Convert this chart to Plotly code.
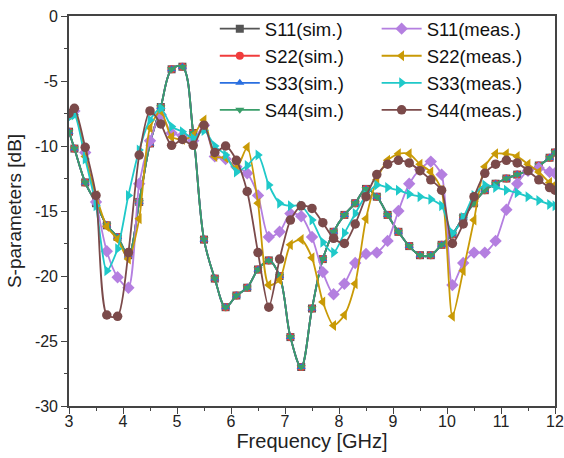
import plotly.graph_objects as go

# Frequency grid (GHz) shared by all curves
freq = [3.0, 3.1, 3.3, 3.5, 3.7, 3.9, 4.1, 4.3, 4.5, 4.7, 4.9, 5.1, 5.3, 5.5, 5.7, 5.9,
        6.1, 6.3, 6.5, 6.7, 6.9, 7.1, 7.3, 7.5, 7.7, 7.9, 8.1, 8.3, 8.5, 8.7, 8.9, 9.1,
        9.3, 9.5, 9.7, 9.9, 10.1, 10.3, 10.5, 10.7, 10.9, 11.1, 11.3, 11.5, 11.7, 11.9, 12.0]

# Simulated (all four ports nearly identical)
s44_sim = [-8.9, -10.2, -12.8, -14.4, -16.1, -17.0, -18.4, -14.3, -9.8, -7.0, -4.1, -3.9,
           -9.0, -17.2, -20.2, -22.4, -21.5, -20.9, -19.5, -18.8, -20.0, -24.7, -27.0, -22.5,
           -18.7, -16.6, -15.3, -14.4, -13.3, -13.9, -15.3, -16.6, -17.7, -18.4, -18.4, -17.6,
           -16.8, -15.5, -14.4, -13.4, -12.9, -12.5, -12.2, -11.9, -11.5, -10.9, -10.5]
s11_sim = list(s44_sim)
s22_sim = list(s44_sim)
s33_sim = list(s44_sim)

# Measured
s11_meas = [-7.6, -7.3, -10.5, -14.3, -18.1, -20.1, -20.9, -12.9, -9.6, -7.6, -9.0, -9.2,
            -9.6, -8.4, -10.8, -11.0, -11.6, -12.1, -13.8, -17.0, -16.6, -15.2, -15.4, -17.0,
            -19.7, -21.4, -20.6, -19.0, -18.3, -18.2, -17.3, -15.0, -12.9, -11.8, -11.2, -12.2,
            -20.7, -19.0, -18.2, -18.2, -17.3, -14.9, -12.9, -11.9, -11.7, -12.0, -12.1]
s22_meas = [-7.6, -7.3, -10.8, -13.8, -16.2, -17.2, -18.7, -15.6, -8.6, -7.3, -9.3, -9.5,
            -9.2, -8.0, -10.8, -10.9, -11.7, -10.1, -14.4, -20.7, -20.3, -17.6, -17.2, -18.6,
            -22.0, -23.8, -23.0, -20.6, -15.6, -12.6, -11.1, -10.6, -10.6, -11.4, -12.0, -13.4,
            -23.1, -19.6, -15.7, -11.6, -10.6, -10.6, -10.8, -11.4, -12.0, -12.8, -13.0]
s33_meas = [-7.8, -7.6, -11.0, -14.6, -19.6, -17.9, -13.8, -10.3, -8.0, -7.1, -8.5, -8.9,
            -9.4, -8.8, -10.0, -10.7, -12.0, -11.5, -10.7, -13.0, -14.4, -14.6, -14.6, -15.7,
            -17.4, -18.2, -16.7, -15.2, -13.8, -13.0, -13.2, -13.4, -13.7, -13.9, -14.1, -14.6,
            -16.7, -15.5, -13.8, -13.0, -13.2, -13.4, -13.6, -13.9, -14.2, -14.5, -14.6]
s44_meas = [-7.5, -7.1, -10.1, -13.8, -23.0, -23.1, -18.2, -10.7, -7.3, -8.3, -9.95, -9.5,
            -9.95, -8.4, -10.5, -10.0, -11.1, -13.5, -18.2, -22.4, -18.7, -15.7, -14.6, -14.8,
            -15.9, -17.1, -17.5, -16.0, -13.9, -12.2, -11.4, -11.1, -11.3, -11.9, -12.6, -13.4,
            -17.5, -16.0, -13.9, -12.1, -11.4, -11.1, -11.3, -11.9, -12.6, -13.2, -13.4]

x_ticks = [3, 4, 5, 6, 7, 8, 9, 10, 11, 12]
y_ticks = [0, -5, -10, -15, -20, -25, -30]

sim_series = [
    ("S11(sim.)", s11_sim, "#555555", "square"),
    ("S22(sim.)", s22_sim, "#F03C3C", "circle"),
    ("S33(sim.)", s33_sim, "#2A6FE0", "triangle-up"),
    ("S44(sim.)", s44_sim, "#3A9E6A", "triangle-down"),
]
meas_series = [
    ("S11(meas.)", s11_meas, "#B47FE0", "diamond"),
    ("S22(meas.)", s22_meas, "#C99A06", "triangle-left"),
    ("S33(meas.)", s33_meas, "#1FC9C9", "triangle-right"),
    ("S44(meas.)", s44_meas, "#7B4A4A", "circle"),
]

FONT = "Liberation Sans, Arial, sans-serif"

fig = go.Figure()
for name, ys, col, sym in sim_series:
    fig.add_trace(go.Scatter(
        x=freq, y=ys, name=name, mode="lines+markers",
        line=dict(color=col, width=1.8, shape="spline", smoothing=1.0),
        marker=dict(symbol=sym, size=8, color=col),
        legend="legend"))
for name, ys, col, sym in meas_series:
    fig.add_trace(go.Scatter(
        x=freq, y=ys, name=name, mode="lines+markers",
        line=dict(color=col, width=1.8, shape="spline", smoothing=0.7),
        marker=dict(symbol=sym, size=9.5, color=col),
        legend="legend2"))

axis_common = dict(
    showline=True, linecolor="#444444", linewidth=1.6, mirror=True,
    ticks="outside", ticklen=6, tickwidth=1.4, tickcolor="#444444",
    showgrid=False, zeroline=False, automargin=False,
    tickfont=dict(family=FONT, size=16, color="#222222"),
    minor=dict(ticks="outside", ticklen=3.5, tickwidth=1.2, tickcolor="#444444", showgrid=False),
)

fig.update_layout(
    template="none",
    width=564, height=458,
    margin=dict(l=69, r=9, t=16, b=52),
    paper_bgcolor="white", plot_bgcolor="white",
    font=dict(family=FONT, size=16, color="#222222"),
    xaxis=dict(range=[3, 12], tickvals=x_ticks, ticktext=[str(v) for v in x_ticks],
               ticklabelstandoff=-6,
               title=dict(text="Frequency [GHz]", font=dict(family=FONT, size=20), standoff=0),
               **axis_common),
    yaxis=dict(range=[-30, 0], tickvals=y_ticks, ticktext=[str(v) for v in y_ticks],
               title=dict(text="S-parameters [dB]", font=dict(family=FONT, size=19), standoff=8),
               **axis_common),
    legend=dict(x=0.30, y=1.015, xanchor="left", yanchor="top",
                bgcolor="rgba(0,0,0,0)", font=dict(family=FONT, size=18.5, color="#111111"),
                tracegroupgap=0, itemwidth=40),
    legend2=dict(x=0.633, y=1.015, xanchor="left", yanchor="top",
                 bgcolor="rgba(0,0,0,0)", font=dict(family=FONT, size=18.5, color="#111111"),
                 tracegroupgap=0, itemwidth=40),
    showlegend=True,
)
fig.update_xaxes(minor_dtick=0.5)
fig.update_yaxes(minor_dtick=2.5)

fig.write_html("out.html",
               config={"displayModeBar": False},
               post_script="document.body.style.margin='0';document.body.style.padding='0';")
